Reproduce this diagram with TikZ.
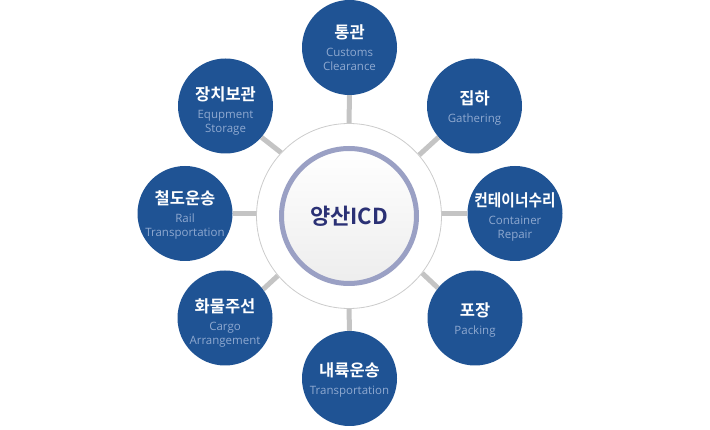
\documentclass[tikz,border=0pt]{standalone}
\usepackage{fontspec}
\setmainfont{Open Sans}
\newfontfamily\kofont{Noto Sans CJK KR}[BoldFont={Noto Sans CJK KR Bold}]
\usetikzlibrary{backgrounds}
\definecolor{satblue}{HTML}{1F5394}
\definecolor{entext}{HTML}{8FA9D0}
\definecolor{linkgray}{HTML}{C4C4C4}
\definecolor{ringblue}{HTML}{9AA0C4}
\definecolor{hubtext}{HTML}{2B3175}
\newcommand{\ko}[1]{{\kofont\bfseries\fontsize{16.5}{20}\selectfont\color{white}#1}}
\tikzset{
  sat/.style={circle,fill=satblue,minimum size=95,inner sep=0pt},
  sattext/.style={align=center,inner sep=0pt,font=\fontsize{11.5}{14}\selectfont,text=entext},
  hubdisc/.style={circle,draw=black!20,line width=.8,fill=white,minimum size=185,inner sep=0pt},
  hubring/.style={circle,draw=ringblue,line width=5,top color=white,bottom color=black!7,
    minimum size=135,inner sep=0pt,align=center,text=hubtext,
    font=\kofont\bfseries\fontsize{22}{26}\selectfont},
  link/.style={draw=linkgray,line width=5}
}
\begin{document}
\begin{tikzpicture}[x=1pt,y=-1pt]
\useasboundingbox (0,0) rectangle (710,430);
\node[hubdisc] (hub) at (349,216) {};
\node[hubring] (core) at (349,216) {양산ICD};
\node[sat,label={[sattext,yshift=0pt]center:{\ko{통관}\\[4.5pt]Customs\\Clearance}}] (customs) at (349.5,47.5) {};
\node[sat,label={[sattext,yshift=-1.5pt]center:{\ko{집하}\\[4pt]Gathering}}] (gather) at (474.5,106) {};
\node[sat,label={[sattext,yshift=-3.5pt]center:{\ko{\scalebox{.89}[1]{컨테이너수리}}\\[4pt]Container\\Repair}}] (repair) at (515,213.5) {};
\node[sat,label={[sattext,yshift=-1.5pt]center:{\ko{포장}\\[4pt]Packing}}] (pack) at (475,318) {};
\node[sat,label={[sattext,yshift=-1.5pt]center:{\ko{내륙운송}\\[4pt]Transportation}}] (inland) at (349.5,378.5) {};
\node[sat,label={[sattext,yshift=-5pt]center:{\ko{화물주선}\\[4pt]Cargo\\Arrangement}}] (cargo) at (225,318) {};
\node[sat,label={[sattext,yshift=-1pt]center:{\ko{철도운송}\\[4pt]Rail\\Transportation}}] (rail) at (185,213.5) {};
\node[sat,label={[sattext,yshift=-4.5pt]center:{\ko{장치보관}\\[4pt]Equpment\\Storage}}] (store) at (225.5,106) {};
\begin{scope}[on background layer]
\draw[link] (customs.south) -- (hub.north);
\draw[link] (gather.221) -- (hub.41.5);
\draw[link] (repair.west) -- (repair.west -| hub.east);
\draw[link] (pack.141) -- (hub.-38);
\draw[link] (inland.north) -- (hub.south);
\draw[link] (cargo.37) -- (hub.220);
\draw[link] (rail.east) -- (rail.east -| hub.west);
\draw[link] (store.-41) -- (hub.137);
\end{scope}
\end{tikzpicture}
\end{document}
